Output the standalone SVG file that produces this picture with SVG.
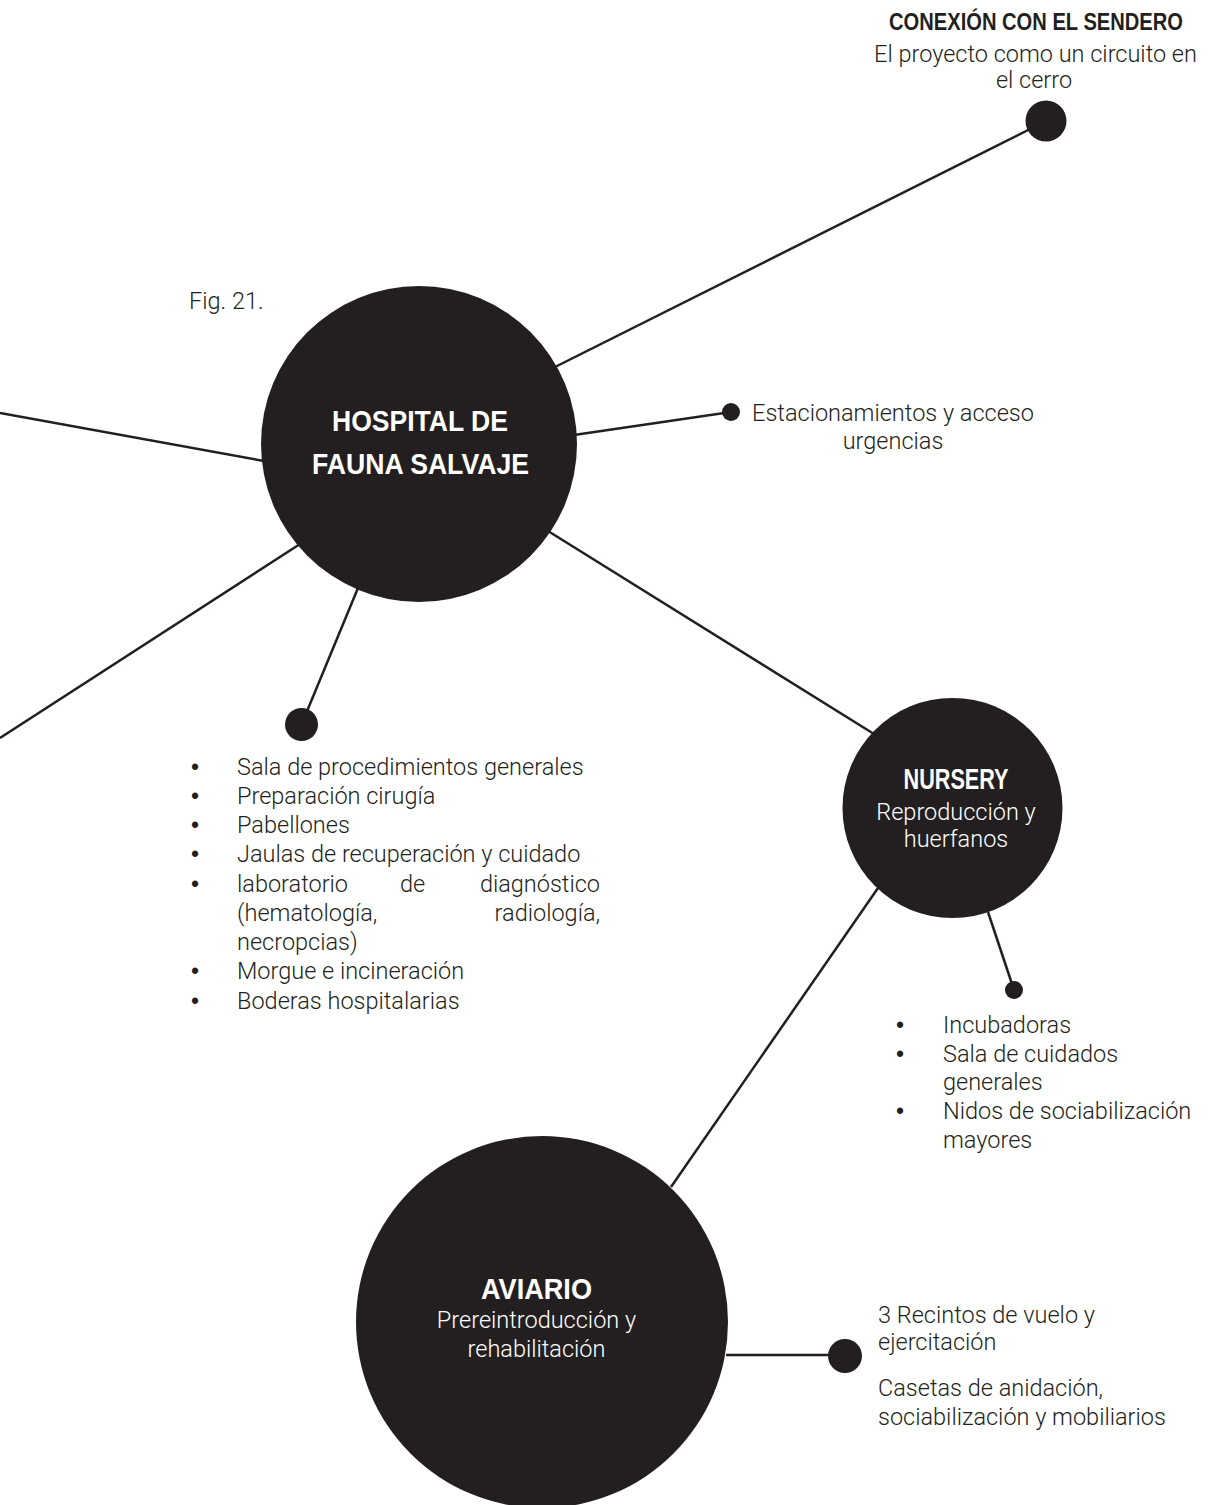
<svg xmlns="http://www.w3.org/2000/svg" width="1215" height="1505" viewBox="0 0 1215 1505">
<style>
.bg{fill:#ffffff}
.node{fill:#231f20}
.edge{stroke:#231f20;stroke-width:2.5;fill:none}
.lt{font-family:Roboto,"Liberation Sans",Arial,sans-serif;font-weight:300;font-size:23.5px;fill:#231f20}
.ltw{font-family:Roboto,"Liberation Sans",Arial,sans-serif;font-weight:300;font-size:23.5px;fill:#ffffff}
.bul{font-family:"Liberation Sans",Arial,sans-serif;font-size:23px;fill:#231f20;text-anchor:middle}
.bd{font-family:"Liberation Sans Narrow","Liberation Sans",Arial,sans-serif;font-weight:700;font-size:30px;fill:#ffffff}
.bdk{font-family:"Liberation Sans Narrow","Liberation Sans",Arial,sans-serif;font-weight:700;font-size:20px;fill:#231f20}
.c{text-anchor:middle}
.e{text-anchor:end}
</style>
<rect class="bg" x="0" y="0" width="1215" height="1505"/>
<g id="connectors">
<line class="edge" x1="555" y1="367" x2="1046" y2="121"/>
<line class="edge" x1="574" y1="435" x2="731" y2="412"/>
<line class="edge" x1="0" y1="413" x2="264" y2="461"/>
<line class="edge" x1="0" y1="738" x2="300" y2="544"/>
<line class="edge" x1="358" y1="588" x2="301.5" y2="724.5"/>
<line class="edge" x1="548" y1="531" x2="874" y2="734"/>
<line class="edge" x1="988" y1="912" x2="1014" y2="990"/>
<line class="edge" x1="878" y1="888" x2="671" y2="1187"/>
<line class="edge" x1="726" y1="1355" x2="845" y2="1355"/>
</g>
<g id="hospital">
<circle class="node" cx="419" cy="444" r="158"/>
<text class="bd c" x="420" y="431" textLength="176" lengthAdjust="spacingAndGlyphs">HOSPITAL DE</text>
<text class="bd c" x="420.5" y="474" textLength="217" lengthAdjust="spacingAndGlyphs">FAUNA SALVAJE</text>
</g>
<g id="fig-label">
<text class="lt" x="189" y="309">Fig. 21.</text>
</g>
<g id="sendero">
<circle class="node" cx="1046" cy="121" r="20.5"/>
<text class="bdk c" transform="translate(1036,30) scale(1,1.2)" x="0" y="0" textLength="294" lengthAdjust="spacingAndGlyphs">CONEXIÓN CON EL SENDERO</text>
<text class="lt c" x="1035.5" y="62">El proyecto como un circuito en</text>
<text class="lt c" x="1034" y="88">el cerro</text>
</g>
<g id="estacionamientos">
<circle class="node" cx="731" cy="412" r="9"/>
<text class="lt c" x="893" y="421">Estacionamientos y acceso</text>
<text class="lt c" x="893" y="449">urgencias</text>
</g>
<g id="hospital-list">
<circle class="node" cx="301.5" cy="724.5" r="16.5"/>
<text class="bul" x="195" y="775">•</text>
<text class="lt" x="237" y="775">Sala de procedimientos generales</text>
<text class="bul" x="195" y="804">•</text>
<text class="lt" x="237" y="804">Preparación cirugía</text>
<text class="bul" x="195" y="833">•</text>
<text class="lt" x="237" y="833">Pabellones</text>
<text class="bul" x="195" y="862">•</text>
<text class="lt" x="237" y="862">Jaulas de recuperación y cuidado</text>
<text class="bul" x="195" y="892">•</text>
<text class="lt" x="237" y="892">laboratorio</text>
<text class="lt" x="400" y="892">de</text>
<text class="lt e" x="600" y="892">diagnóstico</text>
<text class="lt" x="237" y="921">(hematología,</text>
<text class="lt e" x="600" y="921">radiología,</text>
<text class="lt" x="237" y="950">necropcias)</text>
<text class="bul" x="195" y="979">•</text>
<text class="lt" x="237" y="979">Morgue e incineración</text>
<text class="bul" x="195" y="1009">•</text>
<text class="lt" x="237" y="1009">Boderas hospitalarias</text>
</g>
<g id="nursery">
<circle class="node" cx="952.5" cy="808" r="110"/>
<text class="bd c" x="956" y="789" textLength="105" lengthAdjust="spacingAndGlyphs">NURSERY</text>
<text class="ltw c" x="956" y="820">Reproducción y</text>
<text class="ltw c" x="956" y="847">huerfanos</text>
</g>
<g id="nursery-list">
<circle class="node" cx="1014" cy="990" r="9"/>
<text class="bul" x="900" y="1033">•</text>
<text class="lt" x="943" y="1033">Incubadoras</text>
<text class="bul" x="900" y="1062">•</text>
<text class="lt" x="943" y="1062">Sala de cuidados</text>
<text class="lt" x="943" y="1090">generales</text>
<text class="bul" x="900" y="1119">•</text>
<text class="lt" x="943" y="1119">Nidos de sociabilización</text>
<text class="lt" x="943" y="1148">mayores</text>
</g>
<g id="aviario">
<circle class="node" cx="542" cy="1322" r="186"/>
<text class="bd c" x="536.5" y="1299" textLength="111" lengthAdjust="spacingAndGlyphs">AVIARIO</text>
<text class="ltw c" x="536.5" y="1328">Prereintroducción y</text>
<text class="ltw c" x="536.5" y="1357">rehabilitación</text>
</g>
<g id="aviario-list">
<circle class="node" cx="845" cy="1356" r="17"/>
<text class="lt" x="878" y="1323">3 Recintos de vuelo y</text>
<text class="lt" x="878" y="1350">ejercitación</text>
<text class="lt" x="878" y="1396">Casetas de anidación,</text>
<text class="lt" x="878" y="1425">sociabilización y mobiliarios</text>
</g>
</svg>
